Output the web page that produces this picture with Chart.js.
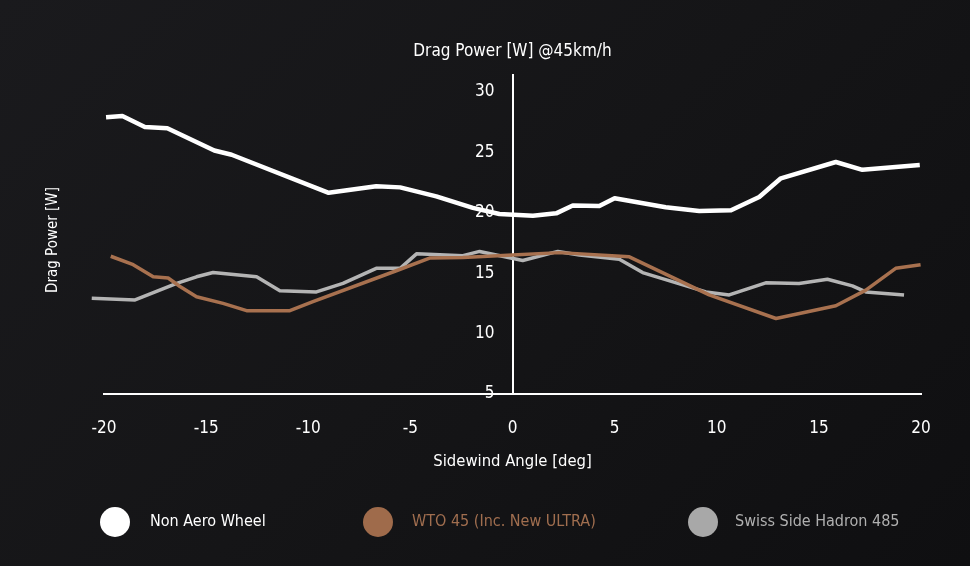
<!DOCTYPE html>
<html><head><meta charset="utf-8">
<script src="https://cdn.jsdelivr.net/npm/chart.js@4/dist/chart.umd.min.js"></script>
<style>
html,body{margin:0;padding:0;background:#141416;}
#wrap{width:970px;height:566px;background:linear-gradient(135deg,#1a1a1d 0%,#151517 50%,#0f0f11 100%);}
canvas{display:block;}
</style></head><body><div id="wrap"><canvas id="c" width="970" height="566"></canvas></div>
<script>
const FONT = "'DejaVu Sans Condensed','Liberation Sans Narrow',sans-serif";
const seriesNames = ['Non Aero Wheel', 'WTO 45 (Inc. New ULTRA)', 'Swiss Side Hadron 485'];
const chartTitle = 'Drag Power [W] @45km/h';
const yAxisLabel = 'Drag Power [W]';
const xAxisLabel = 'Sidewind Angle [deg]';
const xTickStep = 5;
const yTickStep = 5;

const nonAeroAngles = [-19.9, -19.1, -18.0, -16.9, -14.6, -13.75, -9.0, -6.67, -5.5, -3.73, -1.94, -0.64, 1.0, 2.14, 2.95, 4.25, 5.0, 7.5, 9.14, 10.7, 12.08, 13.14, 15.83, 17.13, 19.94];
const nonAeroPower  = [27.9, 28.0, 27.1, 27.0, 25.15, 24.8, 21.65, 22.2, 22.1, 21.35, 20.4, 19.9, 19.75, 19.95, 20.6, 20.55, 21.2, 20.45, 20.15, 20.2, 21.3, 22.85, 24.2, 23.55, 23.95];

const wtoAngles = [-19.67, -18.57, -17.59, -16.86, -16.28, -15.47, -14.17, -13.02, -10.9, -9.77, -5.69, -4.06, -2.43, 0, 2.3, 5.72, 9.63, 12.9, 15.83, 17.3, 18.76, 19.98];
const wtoPower  = [16.4, 15.7, 14.7, 14.6, 13.9, 13.05, 12.5, 11.9, 11.9, 12.65, 15.2, 16.25, 16.3, 16.5, 16.7, 16.35, 13.2, 11.25, 12.3, 13.6, 15.4, 15.7];

const swissAngles = [-20.6, -18.48, -16.44, -15.47, -14.66, -12.53, -11.39, -9.6, -8.3, -6.67, -5.5, -4.7, -2.43, -1.61, 0.5, 2.22, 3.28, 5.23, 6.37, 9.47, 10.61, 12.4, 14.03, 15.42, 16.64, 17.3, 19.17];
const swissPower  = [12.92, 12.78, 14.16, 14.7, 15.05, 14.7, 13.55, 13.45, 14.15, 15.4, 15.4, 16.6, 16.45, 16.8, 16.05, 16.8, 16.5, 16.15, 15.05, 13.45, 13.2, 14.2, 14.15, 14.5, 13.95, 13.45, 13.2];

const lineColors = ['#ffffff', '#a8714f', '#b4b4b4'];
const legendDotColors = ['#ffffff', '#9f6b4b', '#a8a8a8'];
const legendTextColors = ['#ffffff', '#a06e4f', '#b0b0b0'];

function pts(xs, ys){ return xs.map((x,i)=>({x:x, y:ys[i]})); }

const overlay = {
  id: 'overlay',
  afterDraw(chart){
    const ctx = chart.ctx, ca = chart.chartArea;
    ctx.save();
    ctx.fillStyle = '#ffffff';
    ctx.textBaseline = 'middle';
    // title
    ctx.font = '17px ' + FONT;
    ctx.textAlign = 'center';
    ctx.fillText(chartTitle, (ca.left + ca.right)/2, 52);
    // y tick labels from the y scale, placed left of the centred axis
    const ys = chart.scales.y, xs = chart.scales.x;
    const axisX = xs.getPixelForValue(0);
    ctx.textAlign = 'right';
    ys.ticks.forEach(t => {
      ctx.fillText(String(t.value), axisX - 18, ys.getPixelForValue(t.value));
    });
    // left label
    ctx.save();
    ctx.font = '15px ' + FONT;
    ctx.textAlign = 'center';
    ctx.translate(53, 240);
    ctx.rotate(-Math.PI/2);
    ctx.fillText(yAxisLabel, 0, 0);
    ctx.restore();
    // legend
    ctx.font = '16px ' + FONT;
    const slots = [{cx:115, tx:150}, {cx:378, tx:412}, {cx:703, tx:735}];
    chart.data.datasets.forEach((ds, i) => {
      const s = slots[i];
      ctx.beginPath();
      ctx.fillStyle = legendDotColors[i];
      ctx.arc(s.cx, 522, 15, 0, Math.PI*2);
      ctx.fill();
      ctx.fillStyle = legendTextColors[i];
      ctx.textAlign = 'left';
      ctx.fillText(ds.label, s.tx, 522);
    });
    ctx.restore();
  }
};

new Chart(document.getElementById('c'), {
  type: 'line',
  data: {
    datasets: [
      {label: seriesNames[0], data: pts(nonAeroAngles, nonAeroPower), borderColor: lineColors[0], borderWidth: 4.5},
      {label: seriesNames[1], data: pts(wtoAngles, wtoPower), borderColor: lineColors[1], borderWidth: 3.5},
      {label: seriesNames[2], data: pts(swissAngles, swissPower), borderColor: lineColors[2], borderWidth: 3.5}
    ].map(d => Object.assign(d, {pointRadius: 0, tension: 0, fill: false, clip: false, borderJoinStyle: 'round', borderCapStyle: 'butt'}))
  },
  options: {
    responsive: false,
    animation: false,
    layout: {padding: {left: 104, right: 49, top: 75, bottom: 88}},
    plugins: {legend: {display: false}, tooltip: {enabled: false}},
    scales: {
      x: {
        type: 'linear', position: 'bottom', min: -20, max: 20,
        afterFit: s => { s.height = 84; },
        grid: {display: false, drawTicks: false},
        border: {color: '#ffffff', width: 2},
        ticks: {stepSize: xTickStep, color: '#ffffff', font: {family: FONT, size: 17}, padding: 24},
        title: {display: true, text: xAxisLabel, color: '#ffffff', font: {family: FONT, size: 16.5}, padding: {top: 0, bottom: 6}}
      },
      y: {
        type: 'linear', position: {x: 0}, min: 5, max: 31.4,
        grid: {display: false, drawTicks: false},
        border: {color: '#ffffff', width: 2},
        ticks: {display: false, stepSize: yTickStep, includeBounds: false}
      }
    }
  },
  plugins: [overlay]
});
</script>
</body></html>
